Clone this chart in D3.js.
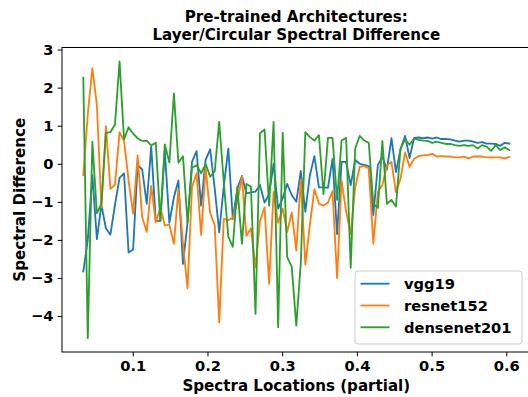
<!DOCTYPE html>
<html>
<head>
<meta charset="utf-8">
<script src="https://cdn.jsdelivr.net/npm/d3@7/dist/d3.min.js"></script>
<style>
  body { margin: 0; background: #fff; }
  svg text { font-family: 'DejaVu Sans', sans-serif; font-weight: bold; }
</style>
</head>
<body>
<div id="chart"></div>
<script>
const WIDTH = 528;
const HEIGHT = 397;
const AX = { left: 62, right: 530.6, top: 47.5, bottom: 352 };
const FONT_SIZE = 14.67;
const LABEL_SIZE = 15.1;

// spectra locations (x) shared by every series
const locations = [
  0.0338, 0.0398, 0.0459, 0.0520, 0.0580, 0.0641, 0.0701, 0.0762, 0.0823, 0.0883,
  0.0944, 0.1005, 0.1065, 0.1126, 0.1187, 0.1247, 0.1308, 0.1369, 0.1429, 0.1490,
  0.1551, 0.1611, 0.1672, 0.1733, 0.1793, 0.1854, 0.1915, 0.1975, 0.2036, 0.2097,
  0.2157, 0.2218, 0.2279, 0.2339, 0.2400, 0.2461, 0.2521, 0.2582, 0.2643, 0.2703,
  0.2764, 0.2825, 0.2885, 0.2946, 0.3007, 0.3067, 0.3128, 0.3189, 0.3249, 0.3310,
  0.3371, 0.3431, 0.3492, 0.3553, 0.3613, 0.3674, 0.3735, 0.3795, 0.3856, 0.3917,
  0.3977, 0.4038, 0.4099, 0.4159, 0.4220, 0.4281, 0.4341, 0.4402, 0.4463, 0.4523,
  0.4584, 0.4645, 0.4705, 0.4766, 0.4827, 0.4887, 0.4948, 0.5009, 0.5069, 0.5130,
  0.5191, 0.5251, 0.5312, 0.5373, 0.5433, 0.5494, 0.5555, 0.5615, 0.5676, 0.5737,
  0.5797, 0.5858, 0.5919, 0.5979, 0.6040,
];

const vgg19 = [
  -2.83, -2.00, -0.30, -1.98, -1.08, -1.70, -1.86, -1.08, -0.37, -0.25,
  -2.33, -2.25, -0.03, -0.15, -1.05, 0.45, -1.50, -1.50, 0.35, -1.55,
  -0.88, -0.44, -2.63, -1.55, 0.05, 0.33, -1.10, 0.10, 0.38, -0.65,
  -1.80, -0.60, 0.40, -1.45, -0.65, -0.32, -0.78, -0.75, -0.73, -0.56,
  -1.02, -0.80, 0.00, -1.18, -0.90, -0.53, -0.82, -1.00, -0.19, -1.26,
  -0.30, 0.20, -0.62, -0.62, -0.63, 0.13, -1.85, 0.05, 0.05, -0.56,
  0.10, 0.00, -0.03, -0.06, -1.35, -0.03, 0.18, -0.15, 0.67, -0.22,
  0.38, 0.73, 0.15, 0.68, 0.69, 0.67, 0.69, 0.66, 0.69, 0.65,
  0.65, 0.64, 0.61, 0.58, 0.61, 0.61, 0.58, 0.55, 0.57, 0.53,
  0.53, 0.52, 0.47, 0.55, 0.53,
];

const resnet152 = [
  -0.30, 1.30, 2.51, 1.54, -1.15, 0.99, -0.66, -0.55, 0.83, 0.60,
  -0.44, -1.31, 0.22, -1.40, -1.79, -0.58, -1.54, -1.15, -1.62, -1.60,
  -2.10, -0.66, -2.10, -3.27, -0.61, -0.25, -1.87, -0.10, -1.30, -1.61,
  -4.17, -1.45, -1.48, -1.42, -1.00, -0.34, -1.89, -1.70, -2.72, -1.50,
  -1.15, -3.15, -0.74, -1.55, -1.18, -1.79, -1.28, -2.28, -0.41, -2.65,
  -1.60, -0.67, -1.05, -1.10, -1.02, -0.72, -3.00, -0.44, -1.25, -1.84,
  -0.63, -0.08, -0.06, -0.12, -2.10, -0.74, -0.56, -0.04, 0.05, -0.75,
  -0.39, 0.30, -0.08, 0.13, 0.20, 0.22, 0.23, 0.26, 0.19, 0.20,
  0.19, 0.19, 0.17, 0.17, 0.19, 0.14, 0.19, 0.19, 0.19, 0.17,
  0.17, 0.17, 0.17, 0.14, 0.18,
];

const densenet201 = [
  2.26, -4.58, 0.58, -1.30, -1.05, 0.81, 0.83, 1.03, 2.69, 0.64,
  0.96, 0.79, 0.67, 0.60, 0.61, 0.48, 0.55, -1.50, 0.51, 0.03,
  1.85, 0.03, 0.20, -1.55, -0.10, -0.04, -0.25, 0.00, -0.34, -0.20,
  1.10, -0.48, -1.92, -2.18, -0.60, -2.10, -0.53, -0.60, -3.94, 0.80,
  0.90, -1.10, 1.10, -4.29, 0.82, -2.45, -2.70, -4.25, -2.60, 0.83,
  0.70, 0.61, 0.75, -0.80, 0.68, 0.68, -0.95, 0.61, 0.68, -2.73,
  0.40, 0.73, 0.61, 0.55, -1.05, -1.16, 0.60, -1.05, -0.95, -1.12,
  0.40, 0.64, 0.50, 0.66, 0.63, 0.61, 0.60, 0.55, 0.58, 0.55,
  0.52, 0.52, 0.49, 0.47, 0.49, 0.47, 0.49, 0.40, 0.49, 0.45,
  0.34, 0.49, 0.36, 0.43, 0.36,
];

const seriesNames = ['vgg19', 'resnet152', 'densenet201'];
const seriesColors = ['#1f77b4', '#ff7f0e', '#2ca02c'];
const xTicks = [0.1, 0.2, 0.3, 0.4, 0.5, 0.6];
const yTicks = [-4, -3, -2, -1, 0, 1, 2, 3];
const titleLines = ['Pre-trained Architectures:', 'Layer/Circular Spectral Difference'];

let series = [vgg19, resnet152, densenet201];

// matplotlib style 5% margins
let xExt = d3.extent(locations);
let xPad = (xExt[1] - xExt[0]) * 0.05;
let yExt = d3.extent(series.flat());
let yPad = (yExt[1] - yExt[0]) * 0.05;

let x = d3.scaleLinear()
  .domain([xExt[0] - xPad, xExt[1] + xPad])
  .range([AX.left, AX.right]);
let y = d3.scaleLinear()
  .domain([yExt[0] - yPad, yExt[1] + yPad])
  .range([AX.bottom, AX.top]);

let svg = d3.select('#chart').append('svg')
  .attr('width', WIDTH)
  .attr('height', HEIGHT);

svg.append('rect')
  .attr('width', WIDTH)
  .attr('height', HEIGHT)
  .attr('fill', '#fff');

let line = d3.line()
  .x((d, i) => x(locations[i]))
  .y((d) => y(d));

svg.selectAll('.series')
  .data(series)
  .enter().append('path')
  .attr('class', 'series')
  .attr('d', line)
  .attr('fill', 'none')
  .attr('stroke', (d, i) => seriesColors[i])
  .attr('stroke-width', 1.83)
  .attr('stroke-linejoin', 'round')
  .attr('stroke-linecap', 'square')
;

// frame
svg.append('rect')
  .attr('x', AX.left)
  .attr('y', AX.top)
  .attr('width', AX.right - AX.left)
  .attr('height', AX.bottom - AX.top)
  .attr('fill', 'none')
  .attr('stroke', '#000')
  .attr('stroke-width', 1)
;

let xAxis = svg.append('g')
  .attr('transform', `translate(0,${AX.bottom})`)
  .call(d3.axisBottom(x)
    .tickValues(xTicks)
    .tickFormat(d3.format('.1f'))
    .tickSize(4.3)
    .tickPadding(4.3)
    .tickSizeOuter(0));

let yAxis = svg.append('g')
  .attr('transform', `translate(${AX.left},0)`)
  .call(d3.axisLeft(y)
    .tickValues(yTicks)
    .tickFormat(d3.format('d'))
    .tickSize(4.3)
    .tickPadding(4.3)
    .tickSizeOuter(0));

[xAxis, yAxis].forEach((g) => {
  g.select('.domain').remove();
  g.selectAll('.tick line').attr('stroke', '#000').attr('stroke-width', 1);
  g.selectAll('.tick text')
    .attr('fill', '#000')
    .style('font-size', FONT_SIZE + 'px')
    .style('font-family', "'DejaVu Sans', sans-serif")
    .style('font-weight', 'bold');
});

let cx = (AX.left + AX.right) / 2;

svg.selectAll('.title')
  .data(titleLines)
  .enter().append('text')
  .attr('class', 'title')
  .attr('x', cx)
  .attr('y', (d, i) => 22 + i * 17.6)
  .attr('text-anchor', 'middle')
  .style('font-size', LABEL_SIZE + 'px')
  .text((d) => d)
;

svg.append('text')
  .attr('x', cx)
  .attr('y', 391)
  .attr('text-anchor', 'middle')
  .style('font-size', LABEL_SIZE + 'px')
  .text('Spectra Locations (partial)');

svg.append('text')
  .attr('transform', `translate(25,${(AX.top + AX.bottom) / 2}) rotate(-90)`)
  .attr('text-anchor', 'middle')
  .style('font-size', LABEL_SIZE + 'px')
  .text('Spectral Difference');

// legend, lower right
let legend = svg.append('g')
  .attr('transform', 'translate(355,271)');

legend.append('rect')
  .attr('width', 167)
  .attr('height', 73)
  .attr('rx', 3)
  .attr('fill', '#fff')
  .attr('fill-opacity', 0.8)
  .attr('stroke', '#cccccc')
  .attr('stroke-width', 1)
;

let entry = legend.selectAll('.entry')
  .data(seriesNames)
  .enter().append('g')
  .attr('class', 'entry')
  .attr('transform', (d, i) => `translate(0,${12.7 + i * 21.8})`)
;

entry.append('line')
  .attr('x1', 5.5)
  .attr('x2', 34.5)
  .attr('stroke', (d, i) => seriesColors[i])
  .attr('stroke-width', 1.83)
;

entry.append('text')
  .attr('x', 49)
  .attr('dy', '0.36em')
  .style('font-size', FONT_SIZE + 'px')
  .text((d) => d)
;
</script>
</body>
</html>
